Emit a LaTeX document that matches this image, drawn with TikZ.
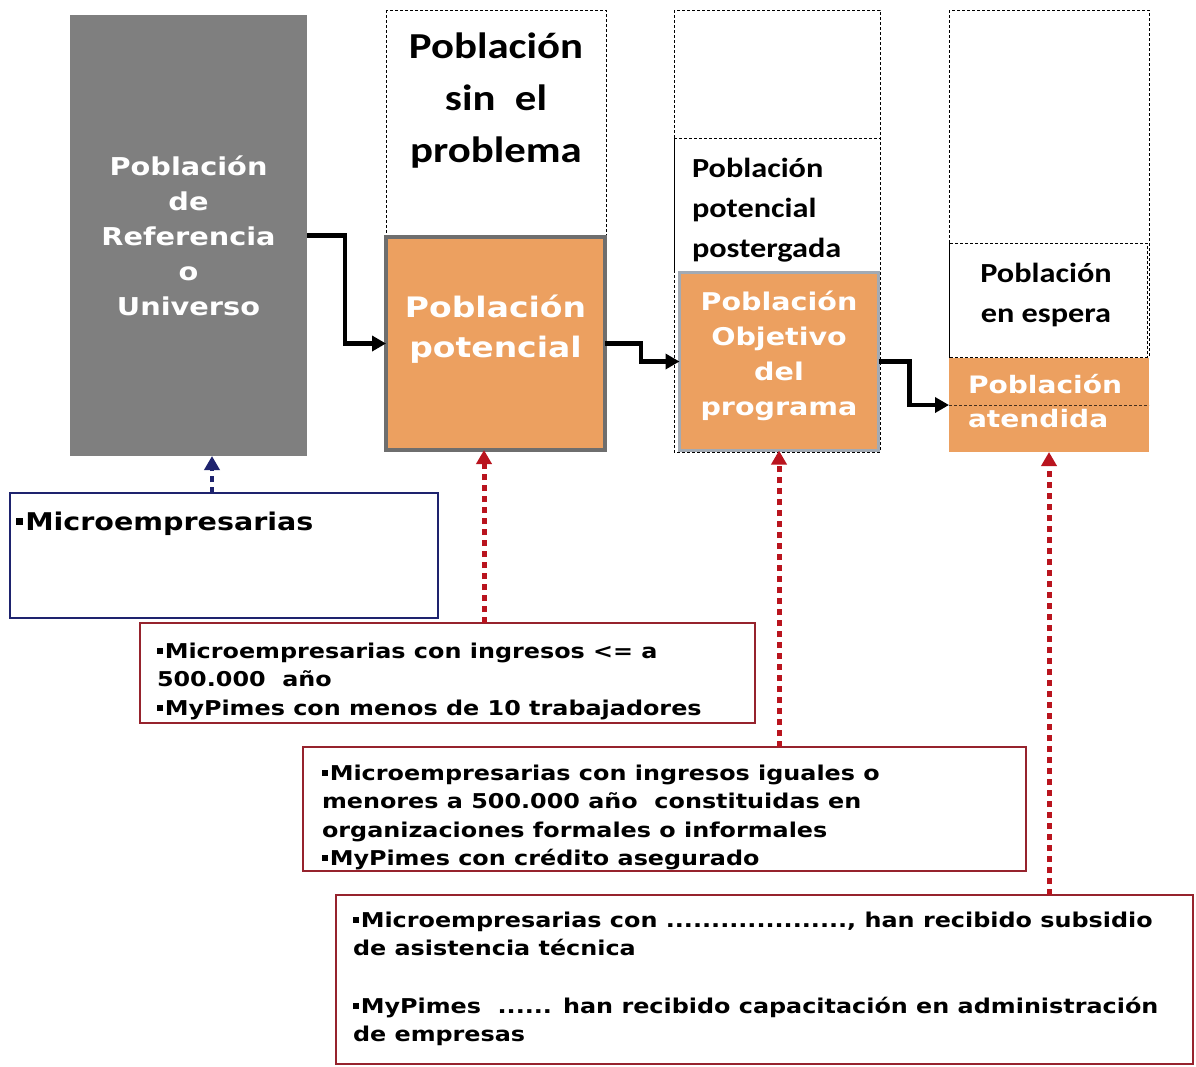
\documentclass[tikz,border=0pt]{standalone}
\usepackage{fontspec}
\setmainfont{DejaVu Sans}
\newfontfamily\vb{DejaVu Sans}[FakeStretch=1.17]
\newfontfamily\cb{Carlito}[FakeStretch=1.17]
\usetikzlibrary{arrows.meta}
\definecolor{refgray}{RGB}{127,127,127}
\definecolor{orng}{RGB}{236,160,96}
\definecolor{potedge}{RGB}{110,110,110}
\definecolor{objedge}{RGB}{162,170,180}
\definecolor{arrred}{RGB}{185,20,30}
\definecolor{boxred}{RGB}{150,35,45}
\definecolor{navy}{RGB}{30,35,110}
\newcommand\bul{\rule[0.2em]{0.3em}{0.3em}\hspace{0.08em}}
\begin{document}
\begin{tikzpicture}[x=1pt,y=-1pt,
  every node/.style={inner sep=0pt,outer sep=0pt},
  dashbox/.style={draw=black,line width=1pt,dash pattern=on 3pt off 2pt},
  harrow/.style={draw=black,line width=4.5pt,-{Triangle[length=14pt,width=15pt]}},
  redarrow/.style={draw=arrred,line width=5pt,dash pattern=on 6pt off 5pt,-{Triangle[length=14pt,width=15pt]}},
  bluearrow/.style={draw=navy,line width=4.5pt,dash pattern=on 6pt off 5pt,-{Triangle[length=14pt,width=15pt]}},
  redbox/.style={draw=boxred,line width=1.2pt,fill=white},
  bluebox/.style={draw=navy,line width=1.2pt,fill=white},
  wtext/.style={text=white,font={\vb\bfseries\fontsize{#1}{#1}\selectfont}},
  btext/.style={text=black,font={\vb\bfseries\fontsize{#1}{#1}\selectfont}},
  ctext/.style={text=black,font={\cb\bfseries\fontsize{#1}{#1}\selectfont}}
]
\useasboundingbox (0,0) rectangle (1196,1066);
\fill[white] (0,0) rectangle (1196,1066);

% dashed outlines
\draw[dashbox] (386,10) rectangle (606,236);
\draw[dashbox] (674,10) rectangle (880,452);
\draw[dashbox] (674,138) -- (880,138);
\draw[black,line width=0.8pt] (674,138) -- (674,272);
\draw[dashbox] (949,10) rectangle (1149,358);
\draw[dashbox] (949,243) rectangle (1147,357);

% main boxes
\node[fill=refgray,minimum width=237,minimum height=441] (ref) at (188.5,235.5) {};
\node[fill=orng,draw=potedge,line width=4pt,minimum width=219,minimum height=213] (pot) at (495.5,343.5) {};
\node[fill=orng,draw=objedge,line width=3pt,minimum width=199,minimum height=178] (obj) at (779,361.5) {};
\node[fill=orng,minimum width=200,minimum height=94] (aten) at (1049,405) {};
\draw[black!70!orng,line width=0.8pt,dash pattern=on 3pt off 2pt] (aten.west) -- (aten.east);

% texts in upper part
\foreach \t [count=\i from 0] in {Población,de,Referencia,o,Universo}
  \node[wtext=24.6,anchor=base] (reft\i) at (188.5,{175+35*\i}) {\t};
\foreach \t [count=\i from 0] in {Población,potencial}
  \node[wtext=28.2,anchor=base] (pott\i) at (495.5,{317+40*\i}) {\t};
\foreach \t [count=\i from 0] in {Población,Objetivo,del,programa}
  \node[wtext=24.4,anchor=base] (objt\i) at (779,{310+35*\i}) {\t};
\foreach \t [count=\i from 0] in {Población,atendida}
  \node[wtext=24,anchor=base west] (atent\i) at (968,{393+34*\i}) {\t};
\foreach \t [count=\i from 0] in {Población,sin\ \ el,problema}
  \node[ctext=36.6,anchor=base] (sint\i) at (496,{58+52*\i}) {\t};
\foreach \t [count=\i from 0] in {Población,potencial,postergada}
  \node[ctext=27.6,anchor=base west] (post\i) at (692,{177+40*\i}) {\t};
\foreach \t [count=\i from 0] in {Población,en espera}
  \node[ctext=27.6,anchor=base] (espt\i) at (1046,{282+40*\i}) {\t};

% flow arrows
\draw[harrow] (ref.east) -- ++(38,0) |- (pot.west);
\draw[harrow] (pot.east) -- ++(36,0) |- (obj.west);
\draw[harrow] (obj.east) -- ++(31,0) |- (aten.west);

% lower boxes
\node[bluebox,minimum width=428,minimum height=125] (b1) at (224,555.5) {};
\node[redbox,minimum width=615,minimum height=100] (b2) at (447.5,673) {};
\node[redbox,minimum width=723,minimum height=124] (b3) at (664.5,809) {};
\node[redbox,minimum width=857,minimum height=169] (b4) at (764.5,979.5) {};

\node[btext=24.4,anchor=base west] (b1t) at (16,530) {\bul Microempresarias};
\foreach \t [count=\i from 0] in {\bul Microempresarias con ingresos <= a,500.000\ \ año,\bul MyPimes con menos de 10 trabajadores}
  \node[btext=20.4,anchor=base west] (b2t\i) at (157,{658+28.5*\i}) {\t};
\foreach \t [count=\i from 0] in {\bul Microempresarias con ingresos iguales o,menores a 500.000 año\ \ constituidas en,organizaciones formales o informales,\bul MyPimes con crédito asegurado}
  \node[btext=20.4,anchor=base west] (b3t\i) at (322,{780+28.5*\i}) {\t};
\node[btext=20.4,anchor=base west] (b4t0) at (353,927) {\bul Microempresarias con ...................., han recibido subsidio};
\node[btext=20.4,anchor=base west] (b4t1) at (353,955.5) {de asistencia técnica};
\node[btext=20.4,anchor=base west] (b4t2) at (353,1013) {\bul MyPimes\ \ ...... han recibido capacitación en administración};
\node[btext=20.4,anchor=base west] (b4t3) at (353,1041.5) {de empresas};

% dotted arrows
\draw[bluearrow] ([xshift=23.5pt]ref.south |- b1.north) -- ([xshift=23.5pt]ref.south);
\draw[redarrow] ([xshift=-11.5pt]pot.south |- b2.north) -- ([xshift=-11.5pt]pot.south);
\draw[redarrow] (obj.south |- b3.north) -- (obj.south);
\draw[redarrow] (aten.south |- b4.north) -- (aten.south);
\end{tikzpicture}
\end{document}
